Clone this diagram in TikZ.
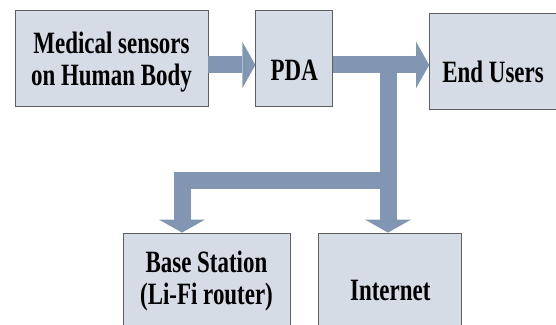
\documentclass[tikz,border=0pt]{standalone}
\usepackage{fontspec}
\setmainfont{Liberation Serif}[FakeStretch=0.74]
\usepackage{xcolor}
\definecolor{boxfill}{RGB}{214, 220, 229}
\definecolor{boxline}{RGB}{95, 95, 95}
\definecolor{flowblue}{RGB}{128, 150, 178}
\usetikzlibrary{positioning,arrows.meta}
\tikzset{
  blockbox/.style={
    rectangle, draw=boxline, line width=0.8pt, fill=boxfill,
    minimum height=96pt, inner sep=0pt
  },
  blocktext/.style={
    align=center, inner sep=0pt,
    font=\fontsize{31}{32}\selectfont\bfseries
  },
  fatarrow/.style={
    draw=flowblue, line width=17pt,
    -{Triangle[width=46pt,length=13pt,line width=0pt]}
  },
}

\begin{document}
\begin{tikzpicture}[x=1pt, y=1pt]
  \clip (0,0) rectangle (556,324);
  \useasboundingbox (0,0) rectangle (556,324);

  \node[blockbox, minimum width=193pt] (sensors) at (111.5,266) {};
  \node[blockbox, minimum width=77pt, right=47pt of sensors] (pda) {};
  \node[blockbox, minimum width=127pt, right=96pt of pda, yshift=-3pt] (users) {};

  % lower boxes run past the bottom edge of the picture
  \node[blockbox, minimum width=167pt, minimum height=100pt] (base) at (206.5,41) {};
  \node[blockbox, minimum width=143pt, minimum height=100pt, right=28pt of base] (internet) {};

  \node[blocktext] (sensorstxt) at ([yshift=-4pt]sensors.center) {Medical sensors\\on Human Body};
  \node[blocktext] (pdatxt) at ([yshift=-12pt]pda.center) {PDA};
  \node[blocktext] (userstxt) at ([yshift=-11pt]users.center) {End Users};
  \node[blocktext] (basetxt) at ([yshift=2pt]base.center) {Base Station\\(Li-Fi router)};
  \node[blocktext] (internettxt) at ([yshift=-8pt]internet.center) {Internet};

  \coordinate (junction) at (388,259);
  \coordinate (split) at (388,143);
  \coordinate (basein) at (182,0 |- base.north);
  \coordinate (netin) at (388,0 |- internet.north);

  \draw[fatarrow] ([yshift=-7pt]sensors.east) -- ([yshift=-7pt]pda.west);
  \draw[fatarrow] ([yshift=-7pt]pda.east) -- (users.west |- junction);
  \draw[fatarrow] (junction) -- (split) -| (basein);
  \draw[fatarrow] (split) -- (netin);
\end{tikzpicture}
\end{document}
